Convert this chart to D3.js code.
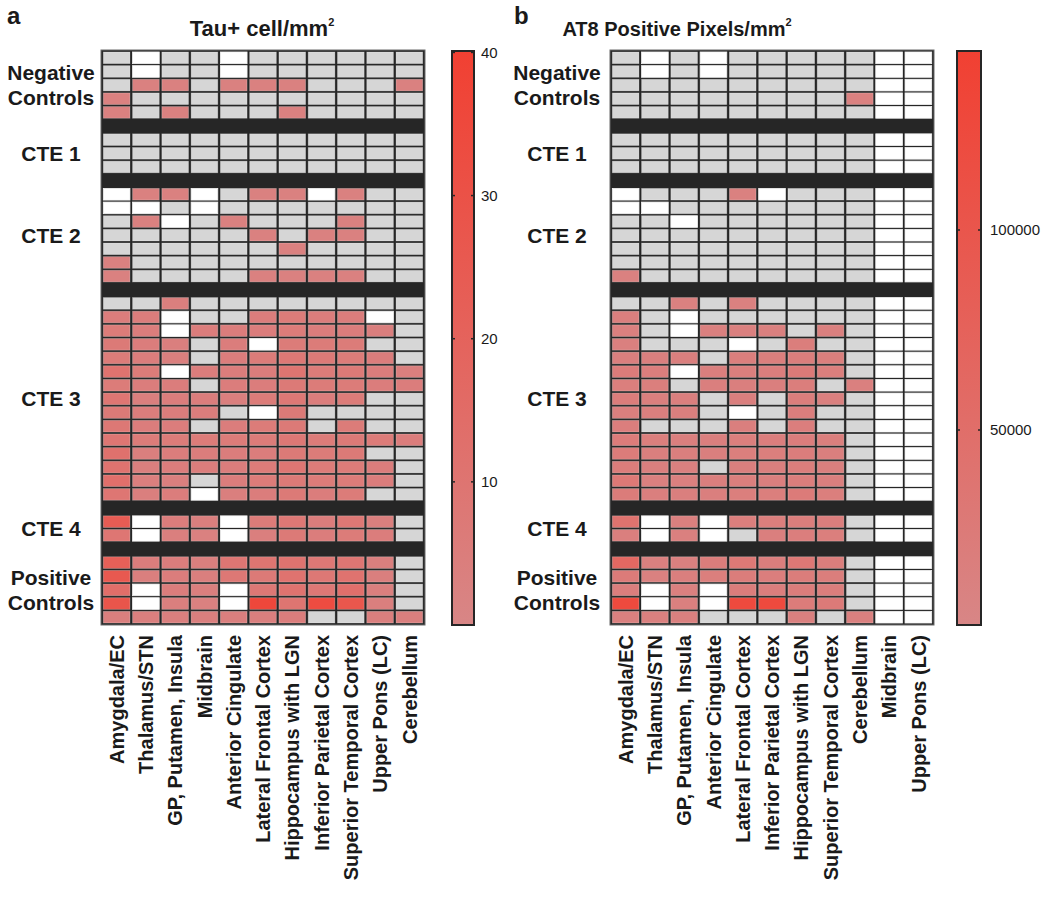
<!DOCTYPE html>
<html><head><meta charset="utf-8">
<script src="https://cdn.jsdelivr.net/npm/d3@7"></script>
<style>
body{margin:0;background:#fff;}
text{font-family:"Liberation Sans",Arial,Helvetica,sans-serif;}
</style></head>
<body><svg id="chart" width="1050" height="902"></svg>
<script>
// ---------------- DATA ----------------
const groupNames = [["Negative","Controls"],["CTE 1"],["CTE 2"],["CTE 3"],["CTE 4"],["Positive","Controls"]];

const tauRegions = ["Amygdala/EC","Thalamus/STN","GP, Putamen, Insula","Midbrain","Anterior Cingulate","Lateral Frontal Cortex","Hippocampus with LGN","Inferior Parietal Cortex","Superior Temporal Cortex","Upper Pons (LC)","Cerebellum"];
const at8Regions = ["Amygdala/EC","Thalamus/STN","GP, Putamen, Insula","Anterior Cingulate","Lateral Frontal Cortex","Inferior Parietal Cortex","Hippocampus with LGN","Superior Temporal Cortex","Cerebellum","Midbrain","Upper Pons (LC)"];

const tauTicks = [10,20,30,40];
const at8Ticks = [50000,100000];
const tauRange = [0, 40.1];
const at8Range = [1250, 144750];

// Tau+ cells/mm2 (null = not available, 0 = none)
const tauNegative = [
 [0,null,0,0,null,0,0,0,0,0,0],
 [0,null,0,0,null,0,0,0,0,0,0],
 [0,3,3,0,3,3,3,0,0,0,3],
 [3,0,0,0,0,0,0,0,0,0,0],
 [3,0,3,0,0,0,3,0,0,0,0]];
const tauCTE1 = [
 [0,0,0,0,0,0,0,0,0,0,0],
 [0,0,0,0,0,0,0,0,0,0,0],
 [0,0,0,0,0,0,0,0,0,0,0]];
const tauCTE2 = [
 [null,3,3,null,0,3,3,null,3,0,0],
 [null,null,0,null,0,0,0,0,0,0,0],
 [0,3,null,0,3,0,0,0,3,0,0],
 [0,0,0,0,0,3,0,3,3,0,0],
 [0,0,0,0,0,0,3,0,0,0,0],
 [3,0,0,0,0,0,0,0,0,0,0],
 [3,0,0,0,0,3,3,3,3,0,0]];
const tauCTE3 = [
 [0,0,4,0,0,0,0,0,0,0,0],
 [5,5,null,0,0,5,6,5,5,null,0],
 [6,5,null,5,5,5,6,5,5,4,0],
 [7,5,4,0,5,null,6,6,6,0,0],
 [6,5,4,0,5,6,8,7,6,5,0],
 [11,6,null,5,5,5,10,6,7,5,4],
 [6,5,5,0,5,5,7,6,6,5,5],
 [9,4,5,5,4,6,8,5,6,0,0],
 [7,5,5,5,0,null,7,0,0,0,0],
 [8,5,5,0,5,6,7,0,6,0,0],
 [9,6,6,6,6,6,8,6,7,6,5],
 [12,4,5,5,5,5,7,6,7,0,0],
 [11,4,5,5,5,6,9,6,6,5,0],
 [13,4,4,0,5,6,7,6,6,5,0],
 [9,4,5,null,4,5,7,5,6,0,0]];
const tauCTE4 = [
 [24,null,5,4,null,6,8,5,8,4,0],
 [9,null,4,3,null,4,7,5,6,5,0]];
const tauPositive = [
 [22,5,5,4,9,10,11,8,9,4,0],
 [26,4,5,4,8,7,11,8,11,4,0],
 [14,null,5,4,null,8,11,8,13,4,0],
 [28,null,4,3,null,36,10,33,27,4,0],
 [4,4,4,4,4,4,5,0,0,4,4]];

// AT8 positive pixels/mm2
const at8Negative = [
 [0,null,0,null,0,0,0,0,0,null,null],
 [0,null,0,null,0,0,0,0,0,null,null],
 [0,0,0,0,0,0,0,0,0,null,null],
 [0,0,0,0,0,0,0,0,12000,null,null],
 [0,0,0,0,0,0,0,0,0,null,null]];
const at8CTE1 = [
 [0,0,0,0,0,0,0,0,0,null,null],
 [0,0,0,0,0,0,0,0,0,null,null],
 [0,0,0,0,0,0,0,0,0,null,null]];
const at8CTE2 = [
 [null,0,0,0,12000,null,0,0,0,null,null],
 [null,null,0,0,0,0,0,0,0,null,null],
 [0,0,null,0,0,0,0,0,0,null,null],
 [0,0,0,0,0,0,0,0,0,null,null],
 [0,0,0,0,0,0,0,0,0,null,null],
 [0,0,0,0,0,0,0,0,0,null,null],
 [12000,0,0,0,0,0,0,0,0,null,null]];
const at8CTE3 = [
 [0,0,12000,0,12000,0,0,0,0,null,null],
 [15000,0,null,0,0,0,0,0,0,null,null],
 [14000,0,null,14000,14000,14000,0,14000,0,null,null],
 [13000,0,0,0,null,0,18000,0,0,null,null],
 [15000,15000,15000,0,16000,16000,18000,16000,0,null,null],
 [22000,17000,null,15000,16000,17000,25000,16000,0,null,null],
 [16000,16000,0,15000,15000,15000,18000,0,13000,null,null],
 [20000,15000,15000,0,15000,0,18000,14000,0,null,null],
 [15000,15000,15000,0,null,0,17000,0,0,null,null],
 [17000,0,0,0,15000,0,17000,0,0,null,null],
 [22000,16000,15000,15000,16000,17000,19000,16000,0,null,null],
 [22000,15000,15000,15000,16000,16000,19000,15000,0,null,null],
 [20000,15000,14000,0,15000,15000,18000,15000,0,null,null],
 [28000,14000,14000,15000,16000,15000,18000,15000,0,null,null],
 [21000,15000,15000,15000,16000,16000,23000,16000,0,null,null]];
const at8CTE4 = [
 [40000,null,14000,null,16000,16000,18000,17000,0,null,null],
 [15000,null,13000,null,0,15000,17000,16000,0,null,null]];
const at8Positive = [
 [62000,14000,14000,20000,28000,17000,30000,18000,0,null,null],
 [24000,12000,15000,16000,20000,17000,20000,18000,0,null,null],
 [17000,null,14000,null,20000,17000,20000,18000,0,null,null],
 [125000,null,14000,null,125000,125000,22000,25000,0,null,null],
 [13000,14000,14000,0,0,0,14000,0,13000,null,null]];

const tauGroups = [tauNegative,tauCTE1,tauCTE2,tauCTE3,tauCTE4,tauPositive];
const at8Groups = [at8Negative,at8CTE1,at8CTE2,at8CTE3,at8CTE4,at8Positive];

// ---------------- DRAWING ----------------
const svg = d3.select("#chart");
const lowColor = "rgb(216,134,134)", highColor = "rgb(241,64,50)";
const zeroColor = "#d6d6d6", nanColor = "#ffffff", sepColor = "#262626";

function buildRows(groups){
  const rows = [];
  groups.forEach((g,gi)=>{
    if(gi>0) rows.push({type:"sep"});
    g.forEach(v=>rows.push({type:"data",values:v,group:gi}));
  });
  return rows;
}

function drawPanel(cfg){
  const g = svg.append("g");
  const rows = buildRows(cfg.groups);
  const x = d3.scaleBand().domain(cfg.regions).range([cfg.x0,cfg.x1]);
  const y = d3.scaleBand().domain(d3.range(rows.length)).range([cfg.y0,cfg.y1]);
  const color = d3.scaleLinear().domain(cfg.range).range([lowColor,highColor]).interpolate(d3.interpolateRgb).clamp(true);

  g.append("rect").attr("x",cfg.x0-1).attr("y",cfg.y0-1).attr("width",cfg.x1-cfg.x0+2).attr("height",cfg.y1-cfg.y0+2)
    .attr("fill",sepColor).attr("stroke","#6a6a6a").attr("stroke-width",1);

  rows.forEach((r,ri)=>{
    if(r.type!=="data") return;
    g.selectAll(null).data(r.values.map((v,ci)=>({v,ci}))).enter().append("rect")
      .attr("x",d=>x(cfg.regions[d.ci])+1.3)
      .attr("y",y(ri)+1)
      .attr("width",x.bandwidth()-2.6)
      .attr("height",y.bandwidth()-2)
      .attr("fill",d=>d.v===null?nanColor:(d.v===0?zeroColor:color(d.v)))
      .attr("stroke",d=>d.v===null?"#f4f4f4":"rgba(255,255,255,0.3)")
      .attr("stroke-width",0.8);
  });

  // group labels
  let start=0;
  cfg.groups.forEach((grp,gi)=>{
    const s = start, e = start+grp.length-1;
    const cy = (y(s)+y(e)+y.bandwidth())/2;
    const lines = groupNames[gi];
    const lh = 25;
    lines.forEach((t,li)=>{
      g.append("text").attr("x",cfg.labelX).attr("y",cy+(li-(lines.length-1)/2)*lh)
        .attr("dy","0.36em").attr("text-anchor","middle")
        .attr("font-size",21).attr("font-weight","bold").attr("fill","#1a1a1a").text(t);
    });
    start += grp.length+1;
  });

  // column labels
  g.selectAll(null).data(cfg.regions).enter().append("text")
    .attr("transform",d=>`translate(${x(d)+x.bandwidth()/2},${cfg.y1+11}) rotate(-90)`)
    .attr("text-anchor","end").attr("dy","0.36em")
    .attr("font-size",20).attr("font-weight","bold").attr("fill","#1a1a1a").text(d=>d);

  // colorbar
  const cb = svg.append("g");
  const cy = d3.scaleLinear().domain(cfg.range).range([cfg.y1+1,cfg.y0]);
  const gid = "grad"+cfg.id;
  const grad = svg.append("defs").append("linearGradient").attr("id",gid)
    .attr("x1",0).attr("y1",1).attr("x2",0).attr("y2",0);
  grad.append("stop").attr("offset",0).attr("stop-color",lowColor);
  grad.append("stop").attr("offset",1).attr("stop-color",highColor);
  cb.append("rect").attr("x",cfg.cbX).attr("y",cfg.y0).attr("width",cfg.cbW).attr("height",cfg.y1+1-cfg.y0)
    .attr("fill",`url(#${gid})`).attr("stroke","#262626").attr("stroke-width",2);
  const axis = d3.axisRight(cy).tickValues(cfg.ticks).tickSize(0).tickPadding(0).tickFormat(d3.format("d"));
  const ag = cb.append("g").attr("transform",`translate(${cfg.cbX+cfg.cbW+cfg.labelPad},0)`).call(axis);
  ag.select(".domain").remove();
  ag.selectAll("text").attr("font-size",15).attr("fill","#1a1a1a").attr("font-family","'Liberation Sans',Arial,sans-serif");
  cfg.ticks.forEach(t=>{
    cb.append("line").attr("x1",cfg.cbX).attr("x2",cfg.cbX+3).attr("y1",cy(t)).attr("y2",cy(t)).attr("stroke","#262626").attr("stroke-width",1.5);
    cb.append("line").attr("x1",cfg.cbX+cfg.cbW-3).attr("x2",cfg.cbX+cfg.cbW).attr("y1",cy(t)).attr("y2",cy(t)).attr("stroke","#262626").attr("stroke-width",1.5);
  });

  // title & panel letter
  const tt = svg.append("text").attr("x",cfg.titleX).attr("y",36).attr("text-anchor","middle")
    .attr("font-size",cfg.titleSize).attr("font-weight","bold").attr("fill","#1a1a1a");
  tt.append("tspan").text(cfg.title);
  tt.append("tspan").attr("font-size",11).attr("dy",-10).text("2");
  svg.append("text").attr("x",cfg.letterX).attr("y",24).attr("font-size",24).attr("font-weight","bold").attr("fill","#1a1a1a").text(cfg.letter);
}

drawPanel({id:"a",groups:tauGroups,regions:tauRegions,range:tauRange,ticks:tauTicks,
  x0:102,x1:424,y0:51,y1:624,labelX:51,cbX:452,cbW:22,labelPad:7,
  title:"Tau+ cell/mm",titleX:262,titleSize:22,letter:"a",letterX:7});
drawPanel({id:"b",groups:at8Groups,regions:at8Regions,range:at8Range,ticks:at8Ticks,
  x0:611,x1:933,y0:51,y1:624,labelX:557,cbX:957,cbW:24,labelPad:9,
  title:"AT8 Positive Pixels/mm",titleX:677,titleSize:20,letter:"b",letterX:514});
</script></body></html>
